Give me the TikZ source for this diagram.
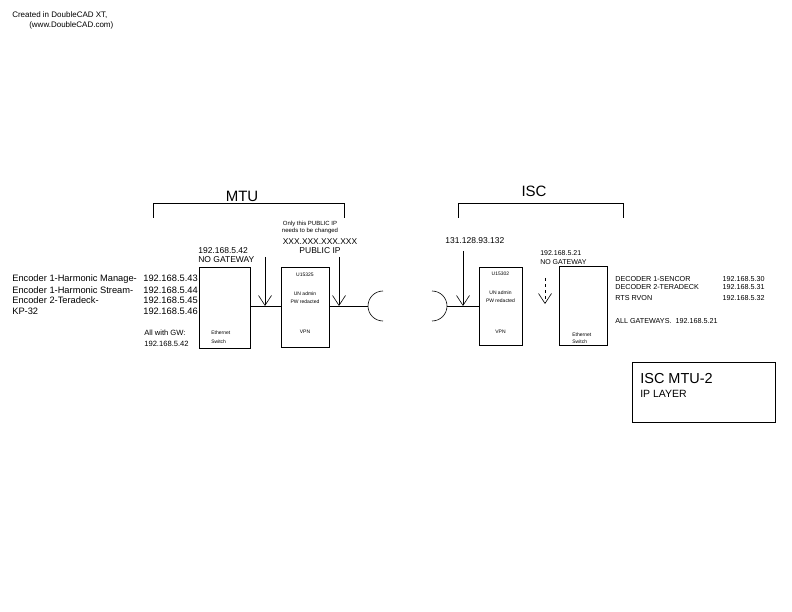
\documentclass[tikz,border=0pt]{standalone}
\usepackage{fontspec}
\setmainfont{Liberation Sans}
\usetikzlibrary{arrows.meta}
\newcommand{\fsz}[1]{\fontsize{#1}{#1}\selectfont}
\begin{document}
\begin{tikzpicture}[x=1pt,y=-1pt,line width=0.6pt,
  tl/.style={inner sep=0pt,anchor=base west},
  tr/.style={inner sep=0pt,anchor=base east},
  tc/.style={inner sep=0pt,anchor=base},
  hdr/.style={tl,font=\fsz{8}},
  enc/.style={font=\fsz{9.3}},
  lab/.style={font=\fsz{8.5}},
  tiny/.style={font=\fsz{6}},
  dec/.style={font=\fsz{7.2}},
  boxt/.style={inner sep=0pt,font=\fsz{5}},
  devbox/.style={draw,inner sep=0pt},
  big/.style={font=\fsz{15}},
  arr/.style={-{Straight Barb[length=10pt,width=13pt]}}
]
\useasboundingbox (0,0) rectangle (792,612);

% header
\node[hdr] (h1) at (12,18) {Created in DoubleCAD XT,};
\node[hdr] (h2) at (29,28) {(www.DoubleCAD.com)};

% brackets
\coordinate (mb1) at (153,218);
\coordinate (mb2) at (153,203);
\coordinate (mb3) at (344,203);
\coordinate (mb4) at (344,218);
\draw (mb1) -- (mb2) -- (mb3) -- (mb4);
\node[big,tc,fill=white,inner sep=1pt] (mtu) at (242,202) {MTU};
\coordinate (ib1) at (458,218);
\coordinate (ib2) at (458,203);
\coordinate (ib3) at (623,203);
\coordinate (ib4) at (623,218);
\draw (ib1) -- (ib2) -- (ib3) -- (ib4);
\node[big,tc] (isc) at (534,197) {ISC};

% boxes
\node[devbox,minimum width=51pt,minimum height=81pt] (sw1) at (224.5,307.5) {};
\node[devbox,minimum width=48pt,minimum height=80pt] (vpn1) at (305,307) {};
\node[devbox,minimum width=43pt,minimum height=78pt] (vpn2) at (500.5,306) {};
\node[devbox,minimum width=48pt,minimum height=79pt] (sw2) at (583,305.5) {};

% box texts
\node[boxt,anchor=base west] (sw1a) at (211,334) {Ethernet};
\node[boxt,anchor=base west] (sw1b) at (211,343) {Switch};
\node[boxt] (v1a) at (305,275) {U15325};
\node[boxt] (v1b) at (305,294) {UN admin};
\node[boxt] (v1c) at (305,302) {PW redacted};
\node[boxt] (v1d) at (305,332) {VPN};
\node[boxt] (v2a) at (500.5,274) {U15302};
\node[boxt] (v2b) at (500.5,293) {UN admin};
\node[boxt] (v2c) at (500.5,301) {PW redacted};
\node[boxt] (v2d) at (500.5,332) {VPN};
\node[boxt,anchor=base west] (sw2a) at (572,336) {Ethernet};
\node[boxt,anchor=base west] (sw2b) at (572,343) {Switch};

% links and break symbol
\coordinate (cl) at (368,306);
\coordinate (cr) at (447,306);
\draw (sw1.east |- 0,306) -- (vpn1.west |- 0,306);
\draw (vpn1.east |- cl) -- (cl);
\draw (cr) -- (vpn2.west |- cr);
\draw (383,291) arc[start angle=-90,end angle=-270,radius=15];
\draw (432,291) arc[start angle=-90,end angle=90,radius=15];

% arrows
\coordinate (a1s) at (265,257); \coordinate (a1e) at (265,306);
\coordinate (a2s) at (339,257); \coordinate (a2e) at (339,306);
\coordinate (a3s) at (463,251); \coordinate (a3e) at (463,306);
\coordinate (a4s) at (545,278); \coordinate (a4e) at (545,304);
\draw[arr] (a1s) -- (a1e);
\draw[arr] (a2s) -- (a2e);
\draw[arr] (a3s) -- (a3e);
\draw[arr,dashed] (a4s) -- (a4e);

% left labels
\node[tl,enc] (e1) at (12,282) {Encoder 1-Harmonic Manage-};
\node[tl,enc] (e2) at (12,293) {Encoder 1-Harmonic Stream-};
\node[tl,enc] (e3) at (12,303) {Encoder 2-Teradeck-};
\node[tl,enc] (e4) at (12,314) {KP-32};
\node[tr,enc] (i1) at (198,282) {192.168.5.43};
\node[tr,enc] (i2) at (198,293) {192.168.5.44};
\node[tr,enc] (i3) at (198,303) {192.168.5.45};
\node[tr,enc] (i4) at (198,314) {192.168.5.46};
\node[tl,font=\fsz{7.6}] (gw1) at (144,335) {All with GW:};
\node[tl,font=\fsz{7.6}] (gw2) at (144,346) {192.168.5.42};

\node[tl,lab] (s1a) at (198,254) {192.168.5.42};
\node[tl,lab] (s1b) at (198,262) {NO GATEWAY};

\node[tc,tiny] (p1) at (310,226) {Only this PUBLIC IP};
\node[tc,tiny] (p2) at (310,233) {needs to be changed};
\node[tc,font=\fsz{8.4}] (p3) at (320,245) {XXX.XXX.XXX.XXX};
\node[tc,lab] (p4) at (320,254) {PUBLIC IP};

\node[tl,lab] (pub2) at (445,244) {131.128.93.132};
\node[tl,font=\fsz{7}] (s2a) at (540,256) {192.168.5.21};
\node[tl,font=\fsz{7}] (s2b) at (540,265) {NO GATEWAY};

% right labels
\node[tl,dec] (d1) at (615,282) {DECODER 1-SENCOR};
\node[tl,dec] (d2) at (615,290) {DECODER 2-TERADECK};
\node[tl,dec] (d3) at (615,300) {RTS RVON};
\node[tr,dec] (di1) at (765,282) {192.168.5.30};
\node[tr,dec] (di2) at (765,290) {192.168.5.31};
\node[tr,dec] (di3) at (765,300) {192.168.5.32};
\node[tl,dec] (dg) at (615,323) {ALL GATEWAYS.\ \ 192.168.5.21};

% title block
\node[devbox,minimum width=143pt,minimum height=60pt] (tb) at (703.5,392) {};
\node[tl,font=\fsz{14.5}] (t1) at (640,383) {ISC MTU-2};
\node[tl,font=\fsz{10.5}] (t2) at (640,397) {IP LAYER};
\end{tikzpicture}
\end{document}
